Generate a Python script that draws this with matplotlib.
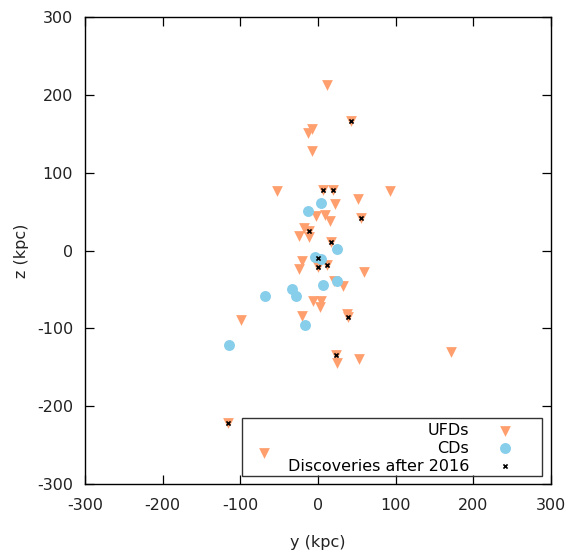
import numpy as np
import matplotlib
matplotlib.use("Agg")
import matplotlib.pyplot as plt
from matplotlib.patches import Rectangle

# ultra-faint dwarfs (y, z) in kpc
ufd_y = [11, 42, -8, -13, -8, -53, 6, 19, 93, 51, 22, -3, 9, 15, 55,
         -18, -11, -24, -11, 17, -21, -24, 0, 11, 59, 20, 32, -6, 4, 2,
         -21, 37, 39, -99, 23, 25, 53, 171, -70, -116]
ufd_z = [213, 167, 156, 151, 128, 77, 78, 78, 77, 66, 60, 44, 46, 38, 42,
         29, 25, 19, 17, 11, -13, -24, -21, -19, -27, -39, -46, -65, -65, -73,
         -84, -82, -85, -89, -134, -144, -139, -131, -260, -222]

# classical dwarfs
cd_y = [4, -13, 24, -4, 4, 24, 7, -33, -28, -68, -17, -115]
cd_z = [61, 51, 2, -8, -11, -39, -44, -50, -59, -59, -96, -121]

# discoveries after 2016
new_y = [42, 6, 19, 55, -11, 17, 0, 0, 11, 39, 23, -116]
new_z = [167, 78, 78, 42, 25, 11, -10, -21, -19, -85, -134, -222]

plt.rcParams['font.family'] = ['DejaVu Sans']
plt.rcParams['font.size'] = 11.5
plt.rcParams['axes.unicode_minus'] = False

fig = plt.figure(figsize=(5.71, 5.58), dpi=100)
ax = fig.add_axes([0.1489, 0.1326, 0.8161, 0.8369])

ax.scatter(ufd_y, ufd_z, marker='v', s=60, color='#ff9f6e', linewidths=0,
           label='UFDs', zorder=2)
ax.scatter(cd_y, cd_z, marker='o', s=62, color='#87ceeb', linewidths=0,
           label='CDs', zorder=3)
ax.scatter(new_y, new_z, marker='x', s=9, color='black', linewidths=1.2,
           label='Discoveries after 2016', zorder=4)

ax.set_xlim(-300, 300)
ax.set_ylim(-300, 300)
ax.set_xticks(np.arange(-300, 301, 100))
ax.set_yticks(np.arange(-300, 301, 100))
ax.tick_params(direction='in', length=6.5, width=0.9, top=True, right=True,
               colors='black', labelcolor='#222222')
ax.tick_params(axis='x', pad=10)
ax.tick_params(axis='y', pad=8.5)
for s in ax.spines.values():
    s.set_linewidth(1.0)

ax.set_xlabel('y (kpc)', labelpad=16, color='#222222')
ax.set_ylabel('z (kpc)', labelpad=6, color='#222222')

# gnuplot style key: text right aligned, symbol on the right, plain box
leg = ax.legend(loc='lower right', bbox_to_anchor=(0.916, 0.0225),
                markerfirst=False, frameon=False, borderpad=0,
                labelspacing=0.18, handletextpad=1.78, borderaxespad=0,
                handlelength=0.91)
ax.add_patch(Rectangle((0.337, 0.017), 0.644, 0.124, transform=ax.transAxes,
                       fill=False, edgecolor='#333333', linewidth=1.0,
                       zorder=5))

fig.savefig('out.png', dpi=100)
